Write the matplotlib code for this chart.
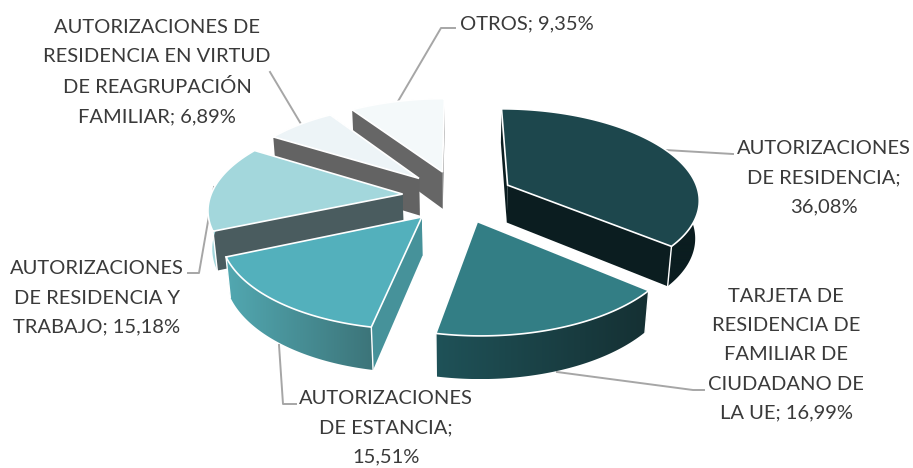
import numpy as np
import matplotlib
matplotlib.use('Agg')
import matplotlib.pyplot as plt
from matplotlib.colors import LinearSegmentedColormap
from matplotlib.patches import Polygon

# Values in percent, clockwise from 12 o'clock
names = ['AUTORIZACIONES\nDE RESIDENCIA',
         'TARJETA DE\nRESIDENCIA DE\nFAMILIAR DE\nCIUDADANO DE\nLA UE',
         'AUTORIZACIONES\nDE ESTANCIA',
         'AUTORIZACIONES\nDE RESIDENCIA Y\nTRABAJO',
         'AUTORIZACIONES DE\nRESIDENCIA EN VIRTUD\nDE REAGRUPACIÓN\nFAMILIAR',
         'OTROS']
values = [36.08, 16.99, 15.51, 15.18, 6.89, 9.35]
seps = [';\n', '; ', ';\n', '; ', '; ', '; ']

# Colours: top face, radial walls, rim left and right
tops = ['#1d474d', '#337e85', '#53b0bc', '#a3d7dc', '#edf4f7', '#f4f9fa']
walls = ['#0b1d20', '#16333a', '#46929a', '#4a5c5f', '#636363', '#666666']
rims_l = ['#0b1d20', '#1f5258', '#52a8b1', '#a3d7dc', '#edf4f7', '#f4f9fa']
rims_r = ['#0b1d20', '#153033', '#3c7479', '#a3d7dc', '#edf4f7', '#f4f9fa']

# Label anchor points and leader lines
label_xy = [(824, 178), (786, 355), (386, 428), (97, 298), (157, 72), (527, 24)]
leaders = [[(665, 150), (733, 154)],
           [(557, 372), (693, 390), (704, 390)],
           [(279, 345), (283, 404), (296, 404)],
           [(214, 187), (199, 273), (188, 273)],
           [(301, 124), (270, 72)],
           [(397, 103), (441, 28), (455, 28)]]

# Projection of the tilted pie
cx, cy = 458, 196
ax_x, ax_y, depth = 192, 90, 38.5
persp, persp_z = 0.142, 0.017
explode = 0.29
draw_order = [5, 4, 3, 2, 0, 1]


def project(x, y, z=0.0):
    w = 1 + persp * np.asarray(y) + persp_z * z
    return np.column_stack([cx + ax_x * np.asarray(x) / w,
                            cy + (-ax_y * np.asarray(y) + depth * z) / w])


fig = plt.figure(figsize=(9.13, 4.68), dpi=100)
ax = fig.add_axes([0, 0, 1, 1])

edges = np.concatenate([[0], np.cumsum(values)]) / np.sum(values) * 2 * np.pi

for i in draw_order:
    a0, a1 = edges[i], edges[i + 1]
    mid = (a0 + a1) / 2
    ox, oy = explode * np.sin(mid), explode * np.cos(mid)
    t = np.linspace(a0, a1, 120)
    rx, ry = ox + np.sin(t), oy + np.cos(t)

    rim_top = project(rx, ry)
    rim_bot = project(rx, ry, 1)
    apex_top = project([ox], [oy])
    apex_bot = project([ox], [oy], 1)

    # radial walls
    for k in (0, -1):
        quad = np.vstack([apex_top, rim_top[k], rim_bot[k], apex_bot])
        ax.fill(quad[:, 0], quad[:, 1], color=walls[i], lw=0, zorder=1)

    # front part of the rim, horizontal colour gradient
    front = np.cos(t) < 0.05
    if front.sum() > 1:
        outline = np.vstack([rim_top[front], rim_bot[front][::-1]])
        clip = Polygon(outline, transform=ax.transData)
        cmap = LinearSegmentedColormap.from_list('rim', [rims_l[i], rims_r[i]])
        xmin, xmax = outline[:, 0].min(), outline[:, 0].max()
        ymin, ymax = outline[:, 1].min(), outline[:, 1].max()
        im = ax.imshow(np.linspace(0, 1, 256).reshape(1, -1), cmap=cmap, aspect='auto',
                       extent=[xmin, xmax, ymax, ymin], zorder=1)
        im.set_clip_path(clip)

    # white corner lines between walls and rim
    for k in (0, -1):
        if front[k]:
            ax.plot([rim_top[k, 0], rim_bot[k, 0]], [rim_top[k, 1], rim_bot[k, 1]],
                    color='white', lw=1, zorder=1)

    # top face
    poly = np.vstack([apex_top, rim_top])
    ax.fill(poly[:, 0], poly[:, 1], facecolor=tops[i], edgecolor='white', lw=1.2, zorder=1)

for line in leaders:
    xs, ys = zip(*line)
    ax.plot(xs, ys, color='#a6a6a6', lw=1.4, zorder=0.5)

for i, (x, y) in enumerate(label_xy):
    txt = f'{names[i]}{seps[i]}{values[i]:.2f}%'.replace('.', ',')
    ax.text(x, y, txt, ha='center', va='center', fontsize=14.5, family='Lato',
            color='#3a3a3a', linespacing=1.87)

ax.set_xlim(0, 913)
ax.set_ylim(468, 0)
ax.axis('off')

fig.savefig('out.png', dpi=100)
